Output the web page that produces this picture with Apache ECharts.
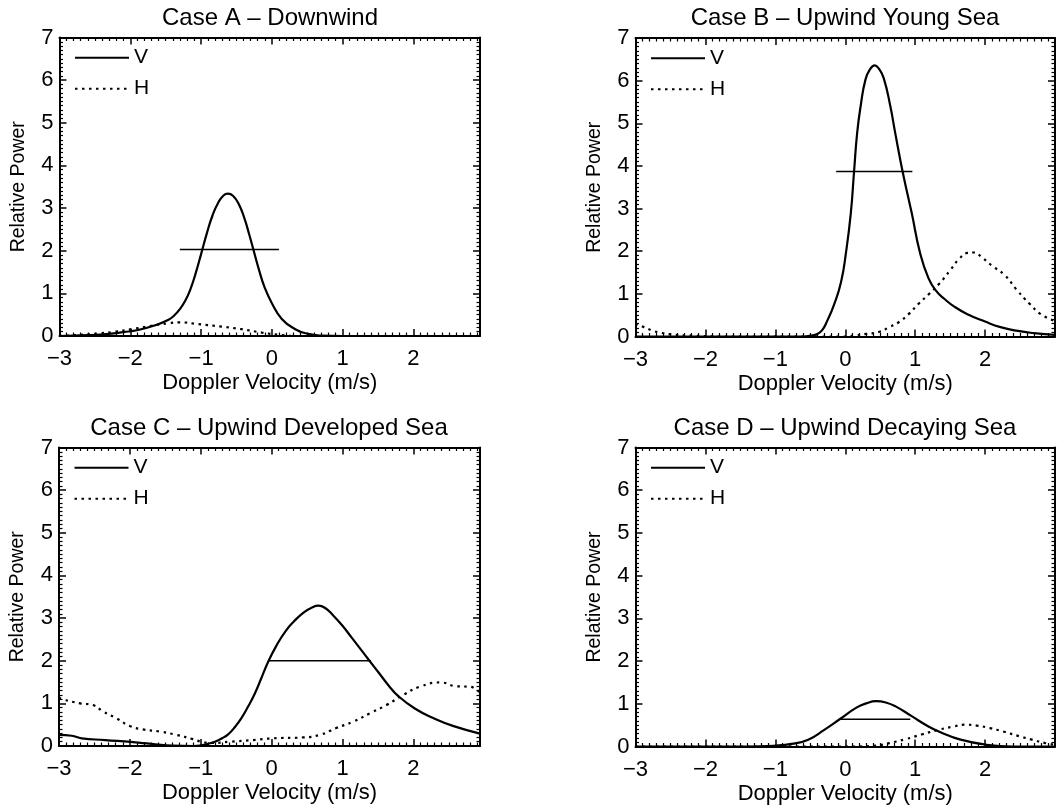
<!DOCTYPE html>
<html><head><meta charset="utf-8">
<script src="https://cdn.jsdelivr.net/npm/echarts@6/dist/echarts.min.js"></script>
<style>html,body{margin:0;padding:0;background:#fff}#c{width:1058px;height:809px}</style>
</head><body><div id="c"></div>
<script>
// ---------------- data ----------------
const titles = ['Case A \u2013 Downwind', 'Case B \u2013 Upwind Young Sea', 'Case C \u2013 Upwind Developed Sea', 'Case D \u2013 Upwind Decaying Sea'];
const xAxisName = 'Doppler Velocity (m/s)';
const yAxisName = 'Relative Power';
const legendNames = ['V', 'H'];
const xTickValues = [-3, -2, -1, 0, 1, 2];
const xTickLabels = ['\u22123', '\u22122', '\u22121', '0', '1', '2'];
const yTickValues = [0, 1, 2, 3, 4, 5, 6, 7];
const yTickLabels = ['0', '1', '2', '3', '4', '5', '6', '7'];

const caseA_V = [[-3.00,0.00],[-2.60,0.02],[-2.30,0.05],[-2.10,0.09],[-1.89,0.14],[-1.65,0.25],[-1.46,0.38],[-1.38,0.48],[-1.30,0.63],[-1.22,0.84],[-1.15,1.10],[-1.08,1.45],[-1.00,1.92],[-0.92,2.40],[-0.84,2.82],[-0.76,3.12],[-0.68,3.30],[-0.62,3.34],[-0.55,3.29],[-0.47,3.10],[-0.39,2.77],[-0.32,2.38],[-0.26,2.02],[-0.18,1.54],[-0.10,1.13],[0.00,0.77],[0.14,0.40],[0.33,0.16],[0.51,0.05],[0.70,0.01],[1.00,0.00],[2.94,0.00]];
const caseA_H = [[-3.00,0.00],[-2.78,0.02],[-2.45,0.06],[-2.22,0.10],[-1.98,0.16],[-1.70,0.24],[-1.46,0.30],[-1.32,0.32],[-1.04,0.28],[-0.71,0.22],[-0.43,0.16],[-0.14,0.08],[0.14,0.02],[0.35,0.00],[2.94,0.00]];
const fwhmA_x = [-1.30, 0.10];
const fwhmA_y = 2.03;

const caseB_V = [[-3.00,0.00],[-0.60,0.00],[-0.50,0.02],[-0.40,0.06],[-0.33,0.15],[-0.26,0.36],[-0.16,0.75],[-0.06,1.28],[0.01,1.96],[0.08,2.90],[0.126,3.87],[0.17,4.77],[0.22,5.40],[0.29,6.03],[0.36,6.28],[0.42,6.36],[0.48,6.28],[0.55,6.06],[0.645,5.40],[0.715,4.77],[0.82,3.87],[0.95,2.90],[1.07,1.96],[1.19,1.37],[1.30,1.07],[1.42,0.88],[1.56,0.70],[1.74,0.53],[2.00,0.35],[2.22,0.22],[2.47,0.13],[2.70,0.08],[3.00,0.04]];
const caseB_H = [[-3.00,0.30],[-2.88,0.22],[-2.76,0.14],[-2.67,0.10],[-2.49,0.05],[-2.16,0.02],[-1.80,0.00],[0.00,0.00],[0.15,0.03],[0.30,0.06],[0.49,0.11],[0.63,0.22],[0.77,0.34],[0.91,0.53],[1.05,0.77],[1.20,1.00],[1.35,1.25],[1.50,1.55],[1.62,1.80],[1.75,1.96],[1.85,1.97],[1.95,1.86],[2.10,1.66],[2.28,1.44],[2.45,1.10],[2.64,0.76],[2.80,0.52],[3.00,0.36]];
const fwhmB_x = [-0.13, 0.96];
const fwhmB_y = 3.87;

const caseC_V = [[-3.00,0.26],[-2.82,0.24],[-2.68,0.18],[-2.35,0.14],[-1.88,0.08],[-1.64,0.04],[-1.40,0.01],[-1.10,0.00],[-0.98,0.02],[-0.90,0.05],[-0.80,0.10],[-0.70,0.18],[-0.61,0.28],[-0.52,0.44],[-0.42,0.67],[-0.33,0.93],[-0.24,1.22],[-0.15,1.57],[-0.05,1.97],[0.07,2.36],[0.20,2.70],[0.32,2.93],[0.45,3.13],[0.56,3.24],[0.66,3.29],[0.76,3.23],[0.87,3.06],[1.00,2.82],[1.13,2.54],[1.26,2.26],[1.38,2.00],[1.52,1.70],[1.65,1.42],[1.78,1.18],[2.02,0.88],[2.30,0.64],[2.58,0.46],[2.94,0.29]];
const caseC_H = [[-3.00,1.14],[-2.96,1.10],[-2.70,1.00],[-2.52,0.96],[-2.38,0.81],[-2.19,0.65],[-2.00,0.47],[-1.82,0.39],[-1.58,0.34],[-1.34,0.26],[-1.11,0.16],[-0.99,0.10],[-0.85,0.07],[-0.59,0.10],[-0.26,0.14],[0.02,0.18],[0.44,0.20],[0.68,0.26],[0.91,0.42],[1.15,0.57],[1.39,0.77],[1.62,0.96],[1.86,1.20],[2.09,1.39],[2.38,1.49],[2.61,1.40],[2.80,1.39],[2.94,1.24]];
const fwhmC_x = [-0.05, 1.40];
const fwhmC_y = 2.00;

const caseD_V = [[-3.00,0.00],[-1.40,0.00],[-1.00,0.02],[-0.77,0.06],[-0.53,0.16],[-0.30,0.39],[-0.07,0.65],[0.16,0.91],[0.30,1.01],[0.44,1.06],[0.58,1.03],[0.72,0.94],[0.95,0.71],[1.19,0.47],[1.37,0.33],[1.65,0.16],[2.02,0.04],[2.40,0.00],[3.00,0.00]];
const caseD_H = [[-3.00,0.00],[0.10,0.00],[0.44,0.02],[0.63,0.08],[0.86,0.17],[1.09,0.28],[1.33,0.39],[1.56,0.47],[1.70,0.51],[1.88,0.49],[2.07,0.43],[2.26,0.35],[2.49,0.24],[2.67,0.16],[2.86,0.08],[3.00,0.04]];
const fwhmD_x = [-0.07, 0.93];
const fwhmD_y = 0.64;

// ---------------- layout ----------------
const FONT = '"Liberation Sans", Arial, sans-serif';
const layout = [
  {left: 59.5, top: 37.5, width: 420.5, height: 298.5, xMax: 2.94, titleX: 270, titleY: 6.5},
  {left: 635.5, top: 38, width: 424.8, height: 298.5, xMax: 3.0, titleX: 845, titleY: 6.5},
  {left: 59, top: 447.5, width: 421, height: 298.5, xMax: 2.94, titleX: 269, titleY: 416.5},
  {left: 635.5, top: 447.5, width: 424.8, height: 299, xMax: 3.0, titleX: 845, titleY: 416.5}
];
const panels = [
  {V: caseA_V, H: caseA_H, fx: fwhmA_x, fy: fwhmA_y},
  {V: caseB_V, H: caseB_H, fx: fwhmB_x, fy: fwhmB_y},
  {V: caseC_V, H: caseC_H, fx: fwhmC_x, fy: fwhmC_y},
  {V: caseD_V, H: caseD_H, fx: fwhmD_x, fy: fwhmD_y}
];

function labelFor(values, labels) {
  return function (v) {
    const r = Math.round(v * 1000) / 1000;
    const k = values.indexOf(r);
    return k >= 0 ? labels[k] : '';
  };
}

const grid = [], xAxis = [], yAxis = [], series = [], title = [], legend = [];
panels.forEach((p, i) => {
  const L = layout[i];
  grid.push({left: L.left, top: L.top, width: L.width, height: L.height, containLabel: false});
  const common = {
    axisLine: {show: true, onZero: false, lineStyle: {color: '#000', width: 2}},
    axisTick: {show: true, inside: true, length: 7, lineStyle: {color: '#000', width: 1.5}},
    minorTick: {show: true, splitNumber: 10, length: 3.5, lineStyle: {color: '#000', width: 1.2}},
    splitLine: {show: false}, minorSplitLine: {show: false}
  };
  xAxis.push(Object.assign({type: 'value', gridIndex: i, position: 'bottom', min: -3, max: L.xMax, interval: 1,
    axisLabel: {show: true, margin: 12, color: '#000', fontFamily: FONT, fontSize: 22,
      showMinLabel: true, showMaxLabel: true, formatter: labelFor(xTickValues, xTickLabels)},
    name: xAxisName, nameLocation: 'middle', nameGap: 36,
    nameTextStyle: {color: '#000', fontFamily: FONT, fontSize: 22}}, common));
  xAxis.push(Object.assign({type: 'value', gridIndex: i, position: 'top', min: -3, max: L.xMax, interval: 1,
    axisLabel: {show: false}}, common));
  yAxis.push(Object.assign({type: 'value', gridIndex: i, position: 'left', min: 0, max: 7, interval: 1,
    axisLabel: {show: true, margin: 6, color: '#000', fontFamily: FONT, fontSize: 22,
      formatter: labelFor(yTickValues, yTickLabels)},
    name: yAxisName, nameLocation: 'middle', nameGap: 31,
    nameTextStyle: {color: '#000', fontFamily: FONT, fontSize: 19.5}}, common));
  yAxis.push(Object.assign({type: 'value', gridIndex: i, position: 'right', min: 0, max: 7, interval: 1,
    axisLabel: {show: false}}, common));

  series.push({type: 'line', name: 'V', xAxisIndex: i * 2, yAxisIndex: i * 2, data: p.V,
    symbol: 'none', showSymbol: false, smooth: 0.5, silent: true,
    lineStyle: {color: '#000', width: 2.2}, itemStyle: {color: '#000'}, z: 3});
  series.push({type: 'line', name: 'H', xAxisIndex: i * 2, yAxisIndex: i * 2, data: p.H,
    symbol: 'none', showSymbol: false, smooth: 0.5, silent: true,
    lineStyle: {color: '#000', width: 2.2, type: [2.5, 4.5]}, itemStyle: {color: '#000'}, z: 3});
  series.push({type: 'line', name: 'FWHM', xAxisIndex: i * 2, yAxisIndex: i * 2,
    data: [[p.fx[0], p.fy], [p.fx[1], p.fy]], symbol: 'none', showSymbol: false, silent: true,
    lineStyle: {color: '#000', width: 1.5}, itemStyle: {color: '#000'}, z: 3});

  title.push({text: titles[i], left: L.titleX, top: L.titleY, textAlign: 'center', padding: 0,
    textStyle: {fontFamily: FONT, fontSize: 24, fontWeight: 'normal', color: '#000'}});
  legend.push({data: legendNames, orient: 'vertical', left: L.left + 14.5, top: L.top + 9.7,
    itemWidth: 54, itemHeight: 12, itemGap: 10, padding: 0, selectedMode: false,
    itemStyle: {color: 'rgba(0,0,0,0)', opacity: 0, borderWidth: 0},
    textStyle: {fontFamily: FONT, fontSize: 21, color: '#000'}});
});

const chart = echarts.init(document.getElementById('c'), null, {renderer: 'canvas'});
chart.setOption({
  backgroundColor: '#fff', animation: false,
  textStyle: {fontFamily: FONT},
  title, legend, grid, xAxis, yAxis, series
});
</script></body></html>
